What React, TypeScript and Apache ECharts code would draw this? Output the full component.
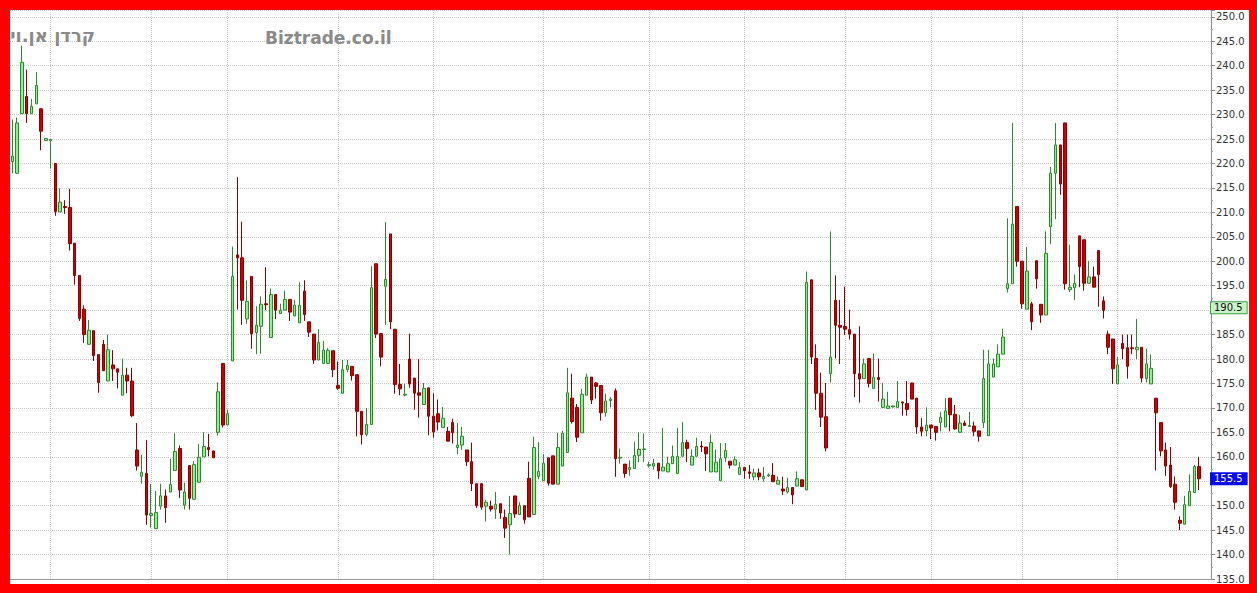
import React, { useEffect, useRef } from "react";
import * as echarts from "echarts";

// Daily OHLC values (249 trading days)
const opens = [
  220.4, 218, 230.2, 233.7, 230.2, 232.2, 231.2, 224.7, 224.7, 220,
  210.1, 211.2, 211, 203.7, 197.1, 190.2, 183, 185.8, 180.9, 183,
  175.5, 178.8, 178, 172.6, 176.7, 175.5, 161.4, 156, 156.6, 148,
  145.3, 149.9, 152, 152.8, 157.2, 161.7, 150.1, 158.2, 151.3, 154.8,
  160, 161.9, 161.2, 165, 179.1, 166.5, 179.6, 201.3, 200.7, 188.2,
  196.9, 185.4, 186.7, 191.3, 184.4, 193.2, 189.3, 190, 192.2, 188.8,
  187.4, 193.9, 187.6, 185.1, 179.8, 179.1, 179.1, 181.7, 174.6, 173,
  177.8, 178.5, 176.8, 169.3, 164.6, 166.6, 199.5, 185.2, 194.9, 205.6,
  186.1, 174.8, 172.6, 180, 176.1, 173.1, 170.7, 174.1, 168.3, 168.8,
  166, 165.2, 167, 161.9, 162.4, 161.4, 159, 154.5, 154.5, 149.9,
  149.9, 149.3, 150.4, 147.6, 146.1, 152, 148.2, 150, 155.6, 148.2,
  156, 155.1, 159.8, 160.2, 154.4, 158.1, 160.9, 172, 170.1, 164.9,
  172.6, 176.3, 175.1, 174.6, 169, 171.5, 173.5, 159.7, 158.5, 157.4,
  157.6, 160.3, 161.5, 158.2, 158.1, 158.7, 157.1, 156.9, 158.6, 156.6,
  160.1, 162.9, 158.3, 160.1, 162.2, 162, 156.9, 156.9, 155.1, 159.8,
  159.1, 158.3, 156.4, 157.8, 156.9, 155.9, 156.7, 155.5, 156.1, 156.2,
  154.4, 153.4, 152.8, 153.7, 154, 155.3, 153.2, 196.2, 180.1, 173,
  168.2, 177, 192, 186.9, 186.7, 186, 185.1, 177, 176, 180.1,
  174, 176.2, 170.1, 169.9, 170.2, 170.1, 171.2, 170.9, 175.1, 172,
  166.1, 165.3, 166.5, 166.2, 167, 166.1, 172, 168.7, 165, 166.9,
  166.2, 166.3, 165.3, 167, 164.3, 176.3, 178.4, 181, 194.4, 195.4,
  211.2, 200, 190.2, 191.3, 200.1, 191.2, 189, 207.1, 218, 223.8,
  228.3, 194.2, 194.6, 205.2, 204.4, 195.5, 196.8, 202.2, 191.9, 185.1,
  184.1, 174.9, 183.2, 182.3, 182.3, 181.9, 182.4, 176, 174.9, 172,
  167, 161.4, 158.3, 154.4, 147, 146.2, 150, 152.7, 158,
];

const closes = [
  221.5, 228.3, 240.7, 230.2, 231.7, 236, 226.6, 225.1, 224.9, 210.2,
  212.1, 211, 203.6, 197.1, 188.3, 185, 185.9, 180.7, 175.2, 177.6,
  181.9, 178, 177.3, 176.7, 175.5, 168.4, 158.1, 156.8, 148.1, 148.4,
  148.6, 152, 149.6, 154.3, 161.1, 153.2, 152.8, 151.5, 158.4, 159.9,
  162.1, 161.5, 159.8, 173.3, 166.5, 168.8, 196.9, 200.7, 192, 191.8,
  185.2, 186.9, 191.2, 191.1, 193.2, 190, 190, 192.2, 189.6, 191,
  191, 189.1, 185.5, 179.8, 183.4, 181.8, 181.8, 177.8, 174, 177.8,
  178.7, 176.6, 169.3, 164.5, 166.6, 194.6, 185.1, 180.4, 196.3, 187.6,
  174.8, 173.9, 172.8, 174.9, 173, 172.6, 174, 168.3, 165.1, 167.1,
  167.9, 163.2, 164.9, 162.4, 164.2, 159, 154.5, 150, 149.7, 150.7,
  149.3, 150.3, 148.5, 145.4, 148.4, 148.3, 150, 147.1, 147.7, 161.9,
  157, 158.7, 154.6, 154.4, 161.9, 164.8, 173.1, 167.2, 164, 172.8,
  176.3, 171.6, 174.4, 169, 171.4, 171.8, 159.6, 159.9, 156.6, 157.8,
  160.3, 161.5, 161.6, 158.4, 158.6, 157.1, 157.9, 158.6, 160.1, 160.1,
  162.9, 161.7, 160.1, 162.1, 162, 160.6, 162.9, 158.9, 159.6, 161.3,
  158.3, 159.4, 157.8, 157.2, 156.6, 156.7, 155.9, 156, 156.3, 154.9,
  155.2, 153, 153.7, 152.2, 155.5, 153.9, 195.7, 180.4, 173, 168.1,
  161.8, 180.4, 186.9, 186.5, 186.1, 185.1, 177, 175.9, 179, 175,
  176.2, 175.8, 171.8, 170.4, 170.4, 171.3, 171, 169.7, 171.8, 166.1,
  165.2, 166.5, 165.9, 165, 168.1, 169.4, 168.6, 165.7, 166.9, 166.4,
  166.4, 165.2, 164.2, 176, 179, 179, 181, 184.5, 195.4, 207.6,
  200, 191.3, 198, 187.6, 196.4, 189, 201.6, 218, 223.8, 215.8,
  195.4, 194.7, 195.5, 198.9, 195.5, 196.8, 194.7, 197.3, 190, 182.4,
  178, 178.8, 182.1, 178.5, 182.1, 182.4, 176.1, 179, 178.1, 169,
  161.2, 158.1, 153.9, 150.7, 146.4, 150.2, 152.9, 158, 155.5,
];

const lows = [
  218, 218, 230.2, 228.3, 230.2, 232.2, 222.7, 224.7, 219, 209.3,
  210.1, 209.7, 202.2, 195.2, 187.8, 183.3, 183, 179.6, 173.1, 177.6,
  175.5, 175.5, 174, 172.6, 173, 168.1, 157.2, 154.5, 146.1, 145.5,
  145.3, 149.2, 146.5, 152.8, 157.2, 151.6, 149.2, 149.2, 151.3, 154.8,
  160, 160.1, 159.8, 164.3, 166, 166.5, 179.6, 190.1, 187, 187.2,
  182.1, 181, 181.1, 190, 184.4, 188.2, 189.3, 190, 187.8, 188.8,
  187.4, 187.8, 184.5, 179, 179.8, 179.1, 179.1, 176.3, 173.7, 173,
  177.3, 175.6, 164.2, 162.5, 164.2, 166.6, 184.3, 178.5, 187, 186.1,
  172.9, 172.6, 172.4, 174.1, 169.6, 168, 170.7, 164.4, 163.9, 165.4,
  166, 163.2, 162.7, 160.5, 161.4, 158.1, 153, 149.5, 149.2, 146.8,
  148.8, 147.3, 147.3, 143.4, 140, 147.5, 148.2, 146.3, 147.7, 148.2,
  155.4, 155.1, 154.1, 154.4, 154.4, 158.1, 160.9, 166.8, 163, 164.9,
  172.6, 170.8, 171.9, 167.4, 168.2, 170.1, 155.9, 158.6, 155.7, 156.1,
  157.6, 158.9, 158.9, 157.8, 157.4, 155.5, 157.1, 156.9, 158.6, 156.6,
  160.1, 158.9, 158.3, 160.1, 161, 157.1, 156.9, 156.9, 155.1, 158.9,
  157.6, 158.3, 156.4, 155.5, 155.5, 155.2, 155.2, 154.9, 155.9, 154.9,
  154.4, 152.2, 152.5, 150.3, 154, 153.9, 153.2, 179, 169.6, 166.1,
  161.1, 175.2, 180.1, 179, 184.9, 184, 172.2, 171.1, 176, 174.2,
  174, 171.3, 170.1, 169.9, 170.1, 170.1, 168.4, 168.4, 171.8, 164.7,
  164.2, 164.2, 163.6, 163.3, 165.2, 166.1, 165.2, 165.5, 165, 166.4,
  166.2, 164.2, 163.1, 165.9, 164.3, 176.3, 178.4, 181, 193.6, 195.4,
  198.9, 190.3, 190.2, 185.9, 194.4, 187.4, 189, 203.5, 208.6, 213.6,
  194.2, 193.7, 192.1, 194.7, 194, 195.5, 194.7, 190.7, 188.3, 181,
  174.9, 174.9, 180, 176, 181, 180, 175.2, 175.2, 174.9, 157.2,
  160.1, 156.1, 153.6, 149.2, 145, 146.2, 150, 152.7, 153.2,
];

const highs = [
  229, 229.4, 244.1, 239.2, 233.2, 238.7, 231.2, 225.1, 225, 220,
  214.9, 212.5, 214.8, 203.7, 197.1, 191, 188, 185.8, 180.9, 183.9,
  185, 181.8, 178, 180.1, 178.2, 178.2, 166.9, 160.4, 163.4, 154.4,
  153, 154.5, 153.3, 159.6, 164.8, 162.3, 154.7, 158.2, 159.1, 162.6,
  165, 164.7, 161.2, 175.2, 179.1, 169.6, 203, 217.2, 208.1, 196.1,
  196.9, 190.8, 192.8, 198.8, 194.4, 193.2, 191.3, 194, 192.2, 192.1,
  195.7, 196.1, 187.6, 185.1, 186.1, 183.7, 182.2, 181.7, 179.5, 179.8,
  179.8, 178.5, 176.8, 169.3, 170, 199, 199.5, 185.2, 208, 205.6,
  186.1, 179, 174.9, 185.2, 176.1, 180, 175.1, 174.1, 173, 171.7,
  170.2, 166.1, 167.8, 166.9, 166.1, 161.4, 162.9, 154.5, 154.5, 151.2,
  151, 152.8, 150.4, 149.2, 152, 152, 150.7, 150, 159, 164.1,
  163, 160.5, 159.8, 160.2, 164.9, 165.3, 178.2, 177, 170.8, 173.9,
  177, 176.3, 175.3, 174.6, 172.9, 172.2, 174, 161.7, 158.5, 159.3,
  163.1, 165, 164.8, 159, 159.6, 158.7, 165.9, 160, 162.3, 165.9,
  167.1, 163.5, 161.5, 163.9, 163.2, 162, 164.6, 161.5, 162.8, 162.8,
  159.1, 160.1, 158.9, 157.8, 158.3, 157.6, 157.6, 157.9, 156.6, 158.7,
  156, 155.9, 155.7, 153.7, 157, 155.3, 197.9, 196.2, 183, 177.2,
  175.1, 206.1, 197.1, 192.1, 194.8, 190.1, 185.1, 186.7, 180.1, 180.1,
  181.1, 180.1, 175.1, 173.3, 170.5, 175.5, 171.3, 175.5, 175.1, 172,
  167.9, 170.1, 166.5, 166.2, 169.2, 172, 172, 170.6, 168.6, 167.4,
  169.2, 167.2, 165.3, 181.9, 181.9, 180.1, 183, 186.2, 208.8, 228.3,
  211.2, 200, 202.9, 191.7, 200.1, 191.2, 206.1, 219.3, 228.3, 223.8,
  228.3, 203.4, 197.3, 205.2, 204.4, 200.1, 198.9, 202.2, 192.8, 185.8,
  184.1, 180.4, 185, 185, 185, 188.2, 182.4, 182.1, 180.9, 172,
  167, 162.9, 162, 156, 147.8, 152, 156.4, 158.3, 160,
];

// Index of the first trading day of each month (vertical grid lines)
const monthStarts = [8, 29, 45, 68, 88, 111, 133, 153, 174, 192, 211, 231];

// Category slots (249 trading days plus two empty slots on the right)
const slotCount = 251;
const categories = Array.from({ length: slotCount }, (_, i) => String(i + 1));

// Price tags on the right axis
const refPrice = 190.5;
const lastPrice = 155.5;

// Value axis settings
const yMin = 135;
const yMax = 251.4;
const yStep = 5;

const titleText = "קרדן אן.וי";
const siteText = "Biztrade.co.il";

export default function App() {
  const ref = useRef<HTMLDivElement>(null);

  useEffect(() => {
    if (!ref.current) return;
    const chart = echarts.init(ref.current, null, { renderer: "svg" });
    const data = opens.map((o, i) => [o, closes[i], lows[i], highs[i]]);

    const tagLabel = (text: string, bg: string, border: string, color: string) => ({
      show: true,
      position: "end",
      distance: 0,
      formatter: text,
      backgroundColor: bg,
      borderColor: border,
      borderWidth: 1,
      color,
      fontSize: 10,
      fontFamily: "DejaVu Sans",
      lineHeight: 11,
      padding: [0, 4, 0, 3],
    });

    chart.setOption({
      animation: false,
      backgroundColor: "#ffffff",
      grid: { left: 0, right: 38, top: 0, bottom: 2, containLabel: false },
      xAxis: {
        type: "category",
        data: categories,
        boundaryGap: true,
        axisLine: { show: true, lineStyle: { color: "#9a9a9a" } },
        axisTick: { show: false },
        axisLabel: { show: false },
        splitLine: { show: false },
      },
      yAxis: {
        type: "value",
        position: "right",
        min: yMin,
        max: yMax,
        interval: yStep,
        axisLine: { show: true, lineStyle: { color: "#8a8a8a" } },
        axisTick: { show: true, length: 4, lineStyle: { color: "#8a8a8a" } },
        minorTick: { show: true, splitNumber: 2, length: 2, lineStyle: { color: "#a0a0a0" } },
        minorSplitLine: { show: false },
        axisLabel: {
          formatter: (v: number) => v.toFixed(1),
          color: "#333333",
          fontSize: 10,
          fontFamily: "DejaVu Sans",
          margin: 5,
          showMaxLabel: false,
        },
        splitLine: { show: true, lineStyle: { color: "#c8c8c8", type: "dotted", width: 1 } },
      },
      graphic: [
        {
          type: "text",
          x: 85,
          y: 25,
          z: 10,
          style: {
            text: titleText,
            font: 'bold 18px "DejaVu Sans"',
            fill: "#8a8a8a",
            align: "right",
            verticalAlign: "middle",
          },
        },
        {
          type: "text",
          x: 255,
          y: 28,
          z: 10,
          style: {
            text: siteText,
            font: 'bold 17px "DejaVu Sans"',
            fill: "#8a8a8a",
            align: "left",
            verticalAlign: "middle",
          },
        },
      ],
      series: [
        {
          type: "candlestick",
          data,
          barWidth: 3,
          itemStyle: {
            color: "#90ee90",
            color0: "#cc0000",
            borderColor: "#2b8a2b",
            borderColor0: "#8b0000",
            borderWidth: 1,
          },
          markLine: {
            silent: true,
            z: 1,
            symbol: ["none", "none"],
            animation: false,
            label: { show: false },
            lineStyle: { color: "#c8c8c8", type: "dotted", width: 1 },
            emphasis: { disabled: true },
            data: [
              ...monthStarts.map((i) => ({ xAxis: i })),
              {
                yAxis: refPrice,
                lineStyle: { color: "rgba(0,0,0,0)", width: 0 },
                label: tagLabel(refPrice.toFixed(1), "#c9f4c9", "#3f9f3f", "#111111"),
              },
              {
                yAxis: lastPrice,
                lineStyle: { color: "rgba(0,0,0,0)", width: 0 },
                label: tagLabel(lastPrice.toFixed(1), "#0a0aee", "#0a0aee", "#ffffff"),
              },
            ],
          },
        },
      ],
    });

    return () => chart.dispose();
  }, []);

  return (
    <div
      style={{
        position: "absolute",
        left: 0,
        top: 0,
        width: 1257,
        height: 593,
        background: "#ff0000",
      }}
    >
      <div
        ref={ref}
        style={{
          position: "absolute",
          left: 10,
          top: 10,
          width: 1239,
          height: 574,
          background: "#ffffff",
          overflow: "hidden",
        }}
      />
    </div>
  );
}
